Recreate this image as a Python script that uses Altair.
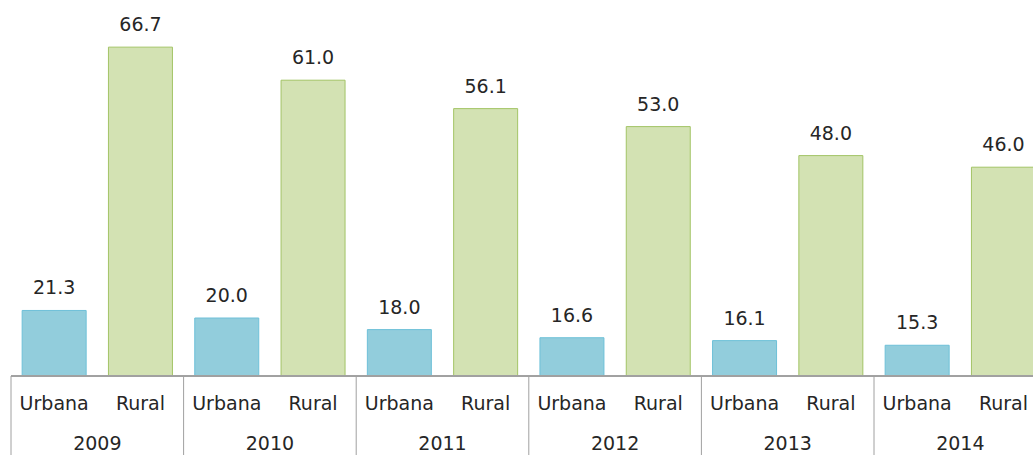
import altair as alt
import pandas as pd

years = ["2009", "2010", "2011", "2012", "2013", "2014"]
areas = ["Urbana", "Rural"]
urbana = [21.3, 20.0, 18.0, 16.6, 16.1, 15.3]
rural = [66.7, 61.0, 56.1, 53.0, 48.0, 46.0]

rows = []
for i, y in enumerate(years):
    for j, (a, vals) in enumerate(zip(areas, [urbana, rural])):
        rows.append({"year": y, "area": a, "value": vals[i], "pos": 2 * i + j + 0.5})
df = pd.DataFrame(rows)
groups = pd.DataFrame({"year": years, "start": [2 * i for i in range(len(years))],
                       "mid": [2 * i + 1 for i in range(len(years))]})

FONT = "DejaVu Sans"
TXT = "#262626"
LEFT = 11
W, H = 1033 - LEFT, 348
SLOT = 86.3

xs = alt.Scale(domain=[0, W / SLOT], nice=False, zero=False, padding=0)
ys = alt.Scale(domain=[10, 70], nice=False, zero=False, padding=0)

base = alt.Chart(df)

bars = base.mark_bar(size=64, strokeWidth=1, clip=False).encode(
    x=alt.X("pos:Q", scale=xs, axis=None),
    y=alt.Y("value:Q", scale=ys, axis=None),
    y2=alt.datum(10),
    fill=alt.Color("area:N", scale=alt.Scale(domain=areas, range=["#92CDDC", "#D3E2B3"]), legend=None),
    stroke=alt.Stroke("area:N", scale=alt.Scale(domain=areas, range=["#6EC0D8", "#A3C466"]), legend=None),
)

vlabels = base.mark_text(font=FONT, fontSize=19, color=TXT, baseline="middle", dy=-22).encode(
    x=alt.X("pos:Q", scale=xs),
    y=alt.Y("value:Q", scale=ys),
    text=alt.Text("value:Q", format=".1f"),
)

alabels = base.mark_text(font=FONT, fontSize=19, color=TXT, baseline="middle").encode(
    x=alt.X("pos:Q", scale=xs),
    y=alt.value(404 - 28),
    text="area:N",
)

gbase = alt.Chart(groups)
ylabels = gbase.mark_text(font=FONT, fontSize=19, color=TXT, baseline="middle").encode(
    x=alt.X("mid:Q", scale=xs),
    y=alt.value(444 - 28),
    text="year:N",
)

seps = gbase.mark_rule(color="#A0A0A0", strokeWidth=1).encode(
    x=alt.X("start:Q", scale=xs),
    y=alt.value(H),
    y2=alt.value(455 - 28),
)

baseline = gbase.mark_rule(color="#A0A0A0", strokeWidth=1).encode(
    x=alt.value(0), x2=alt.value(W), y=alt.value(H)
)

chart = alt.layer(bars, vlabels, alabels, ylabels, seps, baseline).properties(
    width=W, height=H,
    background="white",
    autosize=alt.AutoSizeParams(type="none"),
    padding={"left": LEFT, "top": 28, "right": 0, "bottom": 79},
).configure_view(stroke=None, strokeWidth=0)

chart.save("out.html", embed_options={"renderer": "svg", "actions": False})
